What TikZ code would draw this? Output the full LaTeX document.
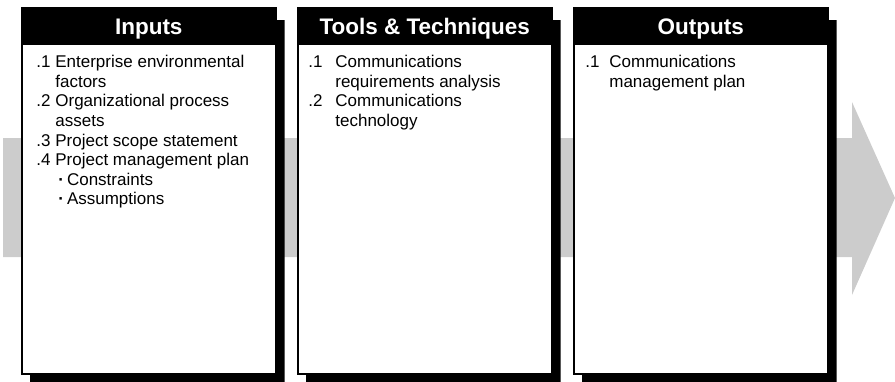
\documentclass[tikz,border=0pt]{standalone}
\usepackage{fontspec}
\setmainfont{Liberation Sans}
\usetikzlibrary{positioning,calc}

\tikzset{every picture/.style={line width=0.75pt}}
\tikzset{
  panel/.style={draw=black, line width=1.5pt, fill=white, minimum width=254pt, minimum height=366pt, inner sep=0pt, anchor=north west},
  header/.style={fill=black, text=white, minimum width=254pt, minimum height=38pt, inner sep=0pt, anchor=north,
                 text height=16pt, text depth=0pt, font=\bfseries\fontsize{22.5}{24}\selectfont},
  itemlist/.style={anchor=north west, inner sep=0pt, align=left, font=\fontsize{17}{19.6}\selectfont},
  shadow/.style={fill=black}
}
\newcommand{\itm}[3]{\makebox[#1][l]{#2}#3}
\newcommand{\cnt}[2]{\hspace*{#1}#2}

\begin{document}
\begin{tikzpicture}[x=1pt,y=1pt,yscale=-1,xscale=1]
    \useasboundingbox (0,0) rectangle (895,381);

    %Shape: Arrow [id:flowarrow]
    \fill [color={rgb, 255:red, 204; green, 204; blue, 204 }] (3,138) -- (852,138) -- (852,102) -- (895,198) -- (852,295) -- (852,257) -- (3,257) -- cycle ;

    %Shape: Panels
    \node [panel] (inputs) at (21,7) {};
    \node [panel] (tools) at (297,7) {};
    \node [panel] (outputs) at (573,7) {};

    %Shape: Shadows
    \foreach \p in {inputs,tools,outputs}{
      \fill [shadow] ([shift={(0,13)}]\p.north east) -- ([shift={(8,13)}]\p.north east) -- ([shift={(8,9)}]\p.south east) -- ([shift={(9,9)}]\p.south west) -- ([shift={(9,0)}]\p.south west) -- (\p.south east) -- cycle ;
    }

    %Shape: Headers
    \node [header] (inputshead) at (inputs.north) {Inputs};
    \node [header] (toolshead) at (tools.north) {Tools \& Techniques};
    \node [header] (outputshead) at (outputs.north) {Outputs};

    % Text Node
    \node [itemlist] (inputslist) at ([shift={(15,48)}]inputs.north west) {%
      \itm{19pt}{.1}{Enterprise environmental}\\
      \cnt{19pt}{factors}\\
      \itm{19pt}{.2}{Organizational process}\\
      \cnt{19pt}{assets}\\
      \itm{19pt}{.3}{Project scope statement}\\
      \itm{19pt}{.4}{Project management plan}\\
      \cnt{22pt}{\textbf{·}\hspace{3pt}Constraints}\\
      \cnt{22pt}{\textbf{·}\hspace{3pt}Assumptions}};
    % Text Node
    \node [itemlist] (toolslist) at ([shift={(11,48)}]tools.north west) {%
      \itm{27pt}{.1}{Communications}\\
      \cnt{27pt}{requirements analysis}\\
      \itm{27pt}{.2}{Communications}\\
      \cnt{27pt}{technology}};
    % Text Node
    \node [itemlist] (outputslist) at ([shift={(12,48)}]outputs.north west) {%
      \itm{24pt}{.1}{Communications}\\
      \cnt{24pt}{management plan}};

\end{tikzpicture}
\end{document}
